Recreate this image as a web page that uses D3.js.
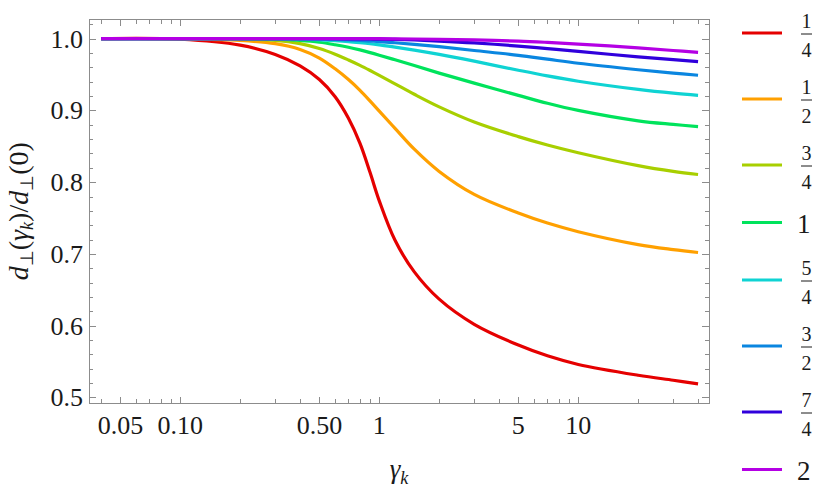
<!DOCTYPE html>
<meta charset="utf-8">
<body style="margin:0">

<script src="https://cdn.jsdelivr.net/npm/d3@7/dist/d3.min.js"></script>
<script>

// gamma_k sample points (shared by every curve)
var gammaK = [0.04, 0.1, 0.2, 0.3, 0.4, 0.5, 0.6, 0.7, 0.8, 0.9, 1, 1.2, 1.5, 2, 3, 5, 7, 10, 20, 30, 40];

// d_perp(gamma_k)/d_perp(0), one array per legend entry
var ratio1of4 = [1.000, 0.9992, 0.991, 0.978, 0.962, 0.943, 0.919, 0.889, 0.854, 0.813, 0.774, 0.719, 0.675, 0.637, 0.602, 0.573, 0.558, 0.546, 0.531, 0.524, 0.519];
var ratio1of2 = [1.000, 0.9997, 0.9975, 0.993, 0.985, 0.973, 0.958, 0.943, 0.928, 0.913, 0.899, 0.875, 0.846, 0.815, 0.783, 0.757, 0.743, 0.731, 0.713, 0.706, 0.702];
var ratio3of4 = [1.000, 1.000, 0.9992, 0.9975, 0.993, 0.9862, 0.9783, 0.9703, 0.9628, 0.9556, 0.9489, 0.937, 0.9225, 0.905, 0.8839, 0.8635, 0.8518, 0.841, 0.823, 0.815, 0.8107];
var ratio1 = [1.000, 1.000, 0.9999, 0.9993, 0.9975, 0.995, 0.9915, 0.988, 0.9843, 0.9806, 0.977, 0.9705, 0.9625, 0.952, 0.938, 0.921, 0.910, 0.900, 0.8855, 0.8805, 0.8775];
var ratio5of4 = [1.000, 1.000, 1.000, 0.9999, 0.9994, 0.9984, 0.9972, 0.9959, 0.9944, 0.9929, 0.9913, 0.9883, 0.9841, 0.9781, 0.9686, 0.956, 0.9481, 0.9407, 0.9293, 0.924, 0.921];
var ratio3of2 = [1.000, 1.000, 1.000, 1.000, 1.000, 0.9996, 0.999, 0.9983, 0.9975, 0.9967, 0.9959, 0.9943, 0.9921, 0.9888, 0.9835, 0.9768, 0.9714, 0.9657, 0.9567, 0.952, 0.949];
var ratio7of4 = [1.000, 1.000, 1.000, 1.000, 1.000, 1.000, 0.9999, 0.9998, 0.9997, 0.9995, 0.9993, 0.9989, 0.9981, 0.9967, 0.9941, 0.9897, 0.9862, 0.9822, 0.9747, 0.9707, 0.968];
var ratio2 = [1.000, 1.000, 1.000, 1.000, 1.000, 1.000, 1.000, 1.000, 1.000, 1.000, 1.000, 0.9998, 0.9995, 0.9991, 0.9982, 0.9966, 0.9948, 0.9925, 0.9872, 0.9835, 0.981];

var seriesLabels = ["1/4", "1/2", "3/4", "1", "5/4", "3/2", "7/4", "2"];
var seriesColors = ["#e50000", "#ffa000", "#a8cf00", "#00e35c", "#0fd3d3", "#0a86e0", "#3000dc", "#b400e4"];
var seriesValues = [ratio1of4, ratio1of2, ratio3of4, ratio1, ratio5of4, ratio3of2, ratio7of4, ratio2];

// ticks
var xMajorTicks = [0.05, 0.1, 0.5, 1, 5, 10];
var xTickLabels = ["0.05", "0.10", "0.50", "1", "5", "10"];
var xMinorTicks = [0.04, 0.06, 0.07, 0.08, 0.09, 0.2, 0.3, 0.4, 0.6, 0.7, 0.8, 0.9, 2, 3, 4, 6, 7, 8, 9, 20, 30, 40];
var yMajorTicks = [0.5, 0.6, 0.7, 0.8, 0.9, 1.0];
var yTickLabels = ["0.5", "0.6", "0.7", "0.8", "0.9", "1.0"];
var yMinorTicks = [0.52, 0.54, 0.56, 0.58, 0.62, 0.64, 0.66, 0.68, 0.72, 0.74, 0.76, 0.78,
                   0.82, 0.84, 0.86, 0.88, 0.92, 0.94, 0.96, 0.98, 1.02];

var ink = "#1a1a1a";
var grey = "#8c8c8c";

// set the dimensions and margins of the graph
var W = 830, H = 504;
var margin = {top: 19.5, right: 121, bottom: 101, left: 89},
    width = W - margin.left - margin.right,
    height = H - margin.top - margin.bottom;

var svg = d3.select("body").append("svg")
    .attr("width", W)
    .attr("height", H)
    .style("background", "#fff");

var x = d3.scaleLog()
    .domain([0.03477, 45.4])
    .range([margin.left, margin.left + width]);

var y = d3.scaleLinear()
    .domain([0.4923, 1.0267])
    .range([margin.top + height, margin.top]);

var x0 = margin.left, x1 = margin.left + width,
    y0 = margin.top + height, y1 = margin.top;

// text helper
function label(parent, px, py, size, anchor) {
  return parent.append("text")
      .attr("x", px)
      .attr("y", py)
      .attr("text-anchor", anchor || "start")
      .style("font-family", "'Liberation Serif'")
      .style("font-size", size + "px")
      .style("fill", ink);
}

// frame
svg.append("rect")
    .attr("x", x0)
    .attr("y", y1)
    .attr("width", width)
    .attr("height", height)
    .attr("fill", "none")
    .attr("stroke", grey)
    .attr("shape-rendering", "crispEdges");

// ticks on all four sides, pointing inwards
function tick(xa, xb, ya, yb) {
  svg.append("line")
      .attr("x1", xa).attr("x2", xb).attr("y1", ya).attr("y2", yb)
      .attr("stroke", grey)
      .attr("shape-rendering", "crispEdges");
}
function xTicks(vals, len) {
  vals.forEach(function(v) {
    var px = Math.round(x(v)) + 0.5;
    tick(px, px, y0, y0 - len);
    tick(px, px, y1, y1 + len);
  });
}
function yTicks(vals, len) {
  vals.forEach(function(v) {
    var py = Math.round(y(v)) + 0.5;
    tick(x0, x0 + len, py, py);
    tick(x1, x1 - len, py, py);
  });
}
xTicks(xMajorTicks, 6.5);
xTicks(xMinorTicks, 4);
yTicks(yMajorTicks, 7);
yTicks(yMinorTicks, 4);

// tick labels
xMajorTicks.forEach(function(v, i) {
  label(svg, x(v), y0 + 31, 26, "middle").text(xTickLabels[i]);
});
yMajorTicks.forEach(function(v, i) {
  label(svg, x0 - 6, y(v) + 9, 26, "end").text(yTickLabels[i]);
});

// curves
var line = d3.line()
    .x(function(d) { return x(d[0]); })
    .y(function(d) { return y(d[1]); })
    .curve(d3.curveCatmullRom.alpha(0.5));

svg.append("g").selectAll("path")
    .data(seriesValues)
  .enter().append("path")
    .attr("fill", "none")
    .attr("stroke-width", 3.2)
    .attr("stroke-linejoin", "round")
    .attr("stroke", function(d, i) { return seriesColors[i]; })
    .attr("d", function(vals) {
      return line(gammaK.map(function(g, j) { return [g, vals[j]]; }));
    });

// axis labels
var xl = label(svg, (x0 + x1) / 2, 478, 27, "middle");
xl.append("tspan").style("font-style", "italic").text("γ");
xl.append("tspan").style("font-style", "italic").style("font-size", "18px").attr("dy", 6).text("k");

var yl = label(svg, 0, 0, 28, "middle")
    .attr("transform", "translate(28," + ((y0 + y1) / 2) + ") rotate(-90)");
yl.append("tspan").style("font-style", "italic").text("d");
yl.append("tspan").style("font-size", "18px").attr("dy", 5).text("⊥");
yl.append("tspan").attr("dy", -5).text("(");
yl.append("tspan").style("font-style", "italic").text("γ");
yl.append("tspan").style("font-style", "italic").style("font-size", "18px").attr("dy", 5).text("k");
yl.append("tspan").attr("dy", -5).text(")/");
yl.append("tspan").style("font-style", "italic").text("d");
yl.append("tspan").style("font-size", "18px").attr("dy", 5).text("⊥");
yl.append("tspan").attr("dy", -5).text("(0)");

// legend
var legend = svg.append("g");
var ly = 33;
seriesLabels.forEach(function(lab, i) {
  var isFrac = lab.indexOf("/") >= 0;
  if (i > 0) {
    var prevFrac = seriesLabels[i - 1].indexOf("/") >= 0;
    ly += (isFrac && prevFrac) ? 66 : 57.5;
  }
  legend.append("line")
      .attr("x1", 742).attr("x2", 782)
      .attr("y1", ly).attr("y2", ly)
      .attr("stroke", seriesColors[i])
      .attr("stroke-width", 3.2);
  if (isFrac) {
    var parts = lab.split("/");
    label(legend, 806.5, ly - 5, 20, "middle").text(parts[0]);
    legend.append("line")
        .attr("x1", 801).attr("x2", 812)
        .attr("y1", ly + 1).attr("y2", ly + 1)
        .attr("stroke", ink)
        .attr("stroke-width", 1);
    label(legend, 806.5, ly + 24, 20, "middle").text(parts[1]);
  } else {
    label(legend, 797, ly + 10, 27).text(lab);
  }
});

</script>

</body>
